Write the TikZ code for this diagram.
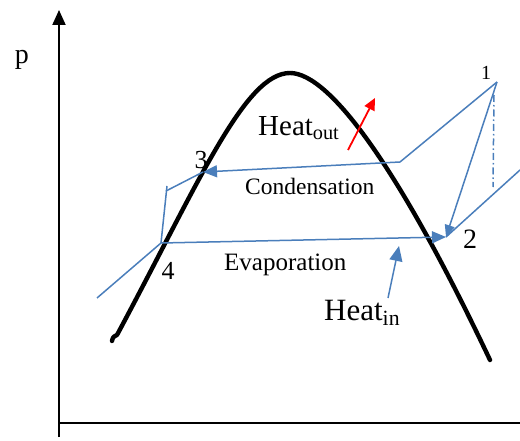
\documentclass[tikz,border=0pt]{standalone}
\usepackage{fontspec}
\setmainfont{Liberation Serif}
\usetikzlibrary{arrows.meta}
\definecolor{cycleblue}{HTML}{4A7EBB}
\begin{document}
\begin{tikzpicture}[x=1pt,y=-1pt,
  axis/.style={line width=2pt,black},
  dome/.style={line width=4.4pt,line cap=round,line join=round},
  cyc/.style={cycleblue,line width=1.5pt},
  cycarrow/.style={cyc,-{Triangle[length=14pt,width=12pt]}},
  lbl/.style={inner sep=0pt},
  fs/.style={font=\fontsize{#1}{#1}\selectfont}]
\useasboundingbox (0,0) rectangle (520,441);
% axes
\coordinate (YB) at (59,437);
\coordinate (YT) at (59,10);
\coordinate (XL) at (59,423);
\coordinate (XR) at (520,423);
\draw[axis,-{Triangle[length=15pt,width=13pt]}] (YB) -- (YT);
\draw[axis,line width=2.5pt] (XL) -- (XR);
\node[lbl,fs=28] (p) at (22,60) {p};
% saturation dome
\coordinate (DS) at (112,341);
\coordinate (DA) at (117,335);
\coordinate (DP) at (290,73);
\coordinate (DE) at (490,360);
\draw[dome] (DS) .. controls (113,337) .. (DA)
  .. controls (200,180) and (245,73) .. (DP)
  .. controls (330,73) and (400,170) .. (DE);
% cycle points
\coordinate (P1) at (497,82);
\coordinate (C1) at (400,162);
\coordinate (P3) at (203,172);
\coordinate (K1) at (166,191);
\coordinate (K2) at (167,186);
\coordinate (P4) at (161,243);
\coordinate (P2) at (446,237);
\coordinate (L) at (97,298);
\coordinate (R) at (520,170);
\coordinate (D1) at (494,95);
\coordinate (D2) at (493,187);
\draw[cyc] (P1) -- (C1);
\draw[cycarrow] (C1) -- (P3);
\draw[cyc] (P3) -- (K1);
\draw[cyc] (K2) -- (P4);
\draw[cyc] (P4) -- (L);
\draw[cycarrow] (P4) -- (P2);
\draw[cycarrow,-{Triangle[length=12pt,width=10pt]}] (P1) -- (P2);
\draw[cyc] (R) -- (P2);
\draw[cyc,dash pattern=on 7pt off 3pt on 1.5pt off 3pt] (D1) -- (D2);
% heat arrows
\coordinate (HinS) at (388,298);
\coordinate (HinE) at (399,246);
\draw[cycarrow,-{Triangle[length=15pt,width=13pt]}] (HinS) -- (HinE);
\coordinate (HoS) at (348,150);
\coordinate (HoE) at (375,98);
\draw[red,line width=1.8pt,-{Triangle[length=12pt,width=11pt]}] (HoS) -- (HoE);
% labels
\node[lbl,fs=29,anchor=base west] (hout) at (258,136) {Heat\textsubscript{out}};
\node[lbl,fs=31,anchor=base west] (hin) at (324,320) {Heat\textsubscript{in}};
\node[lbl,fs=23.5,anchor=base west] (cond) at (245,195) {Condensation};
\node[lbl,fs=25,anchor=base west] (evap) at (224,270) {Evaporation};
\node[lbl,fs=20] (n1) at (486,73) {1};
\node[lbl,fs=28] (n2) at (470,239) {2};
\node[lbl,fs=26] (n3) at (201,160) {3};
\node[lbl,fs=26] (n4) at (168,271) {4};
\end{tikzpicture}
\end{document}
